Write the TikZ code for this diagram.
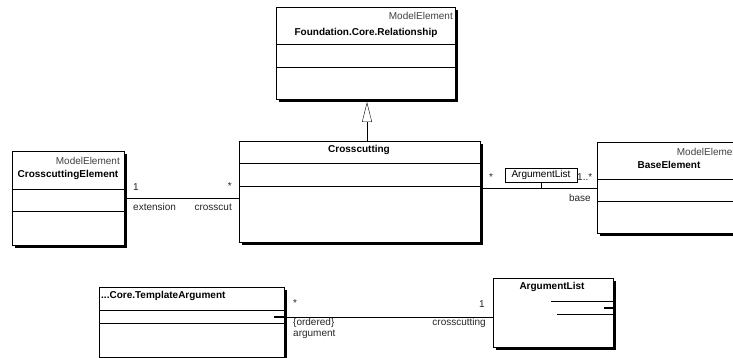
\documentclass[tikz,border=0pt]{standalone}
\usepackage{fontspec}
\setmainfont{Liberation Sans}
\usetikzlibrary{positioning, arrows.meta, shadows}

\begin{document}
\begin{tikzpicture}[x=1pt, y=-1pt, font=\fontsize{10}{11}\selectfont,
	classbox/.style={draw, line width=0.8pt, fill=white, anchor=north west, inner sep=0pt,
		drop shadow={shadow xshift=2.5pt, shadow yshift=-2.5pt, opacity=1, fill=black}},
	stereo/.style={anchor=east, inner sep=0pt, text=black!75},
	title/.style={inner sep=0pt, font=\fontsize{10}{11}\selectfont\bfseries},
	lbl/.style={inner sep=0pt, text=black!85},
	gen/.style={-{Triangle[open, length=20pt, width=10pt]}}]
	\useasboundingbox (0,0) rectangle (733,358);
	\clip (0,0) rectangle (733,358);
	% classes
	\node[classbox, minimum width=179pt, minimum height=92pt] (rel) at (276,7) {};
	\node[classbox, minimum width=112pt, minimum height=94pt] (ce) at (12,151) {};
	\node[classbox, minimum width=241pt, minimum height=101pt] (cc) at (239,141) {};
	\node[classbox, minimum width=146pt, minimum height=91pt] (be) at (597,142) {};
	\node[classbox, minimum width=185pt, minimum height=70pt] (ta) at (99,287) {};
	\node[classbox, minimum width=120pt, minimum height=69pt] (al) at (493,278) {};
	\foreach \n/\a/\b in {rel/44/67, ce/189/211, cc/163/186, be/179/201, ta/310/323}
		\draw[line width=0.8pt] (\n.west |- 0,\a) -- (\n.east |- 0,\a) (\n.west |- 0,\b) -- (\n.east |- 0,\b);
	\draw[line width=0.8pt] (551,301) -- (al.east |- 0,301) (557,314) -- (al.east |- 0,314);
	\draw[line width=1.6pt] (604,308) -- (al.east |- 0,308);
	% names
	\node[stereo] (relst) at (453,16) {ModelElement};
	\node[title] (reln) at (366,33) {Foundation.Core.Relationship};
	\node[stereo] (cest) at (120,161) {ModelElement};
	\node[title] (cen) at (68,175) {CrosscuttingElement};
	\node[title] (ccn) at (359,150) {Crosscutting};
	\node[stereo] (best) at (741,152) {ModelElement};
	\node[title] (ben) at (669,165) {BaseElement};
	\node[title, anchor=west] (tan) at (101,296) {...Core.TemplateArgument};
	\node[title] (aln) at (552,287) {ArgumentList};
	% generalization
	\coordinate (gtip) at (367,102);
	\draw[gen] (cc.north -| gtip) -- (gtip);
	% associations
	\draw (ce.east) -- (cc.west |- ce.east);
	\node[lbl, anchor=west] (ce1) at (133,187) {1};
	\node[lbl, anchor=east] (cc1) at (232,186) {*};
	\node[lbl, anchor=west] (ceext) at (133,207) {extension};
	\node[lbl, anchor=east] (cccross) at (232,207) {crosscut};
	\draw (cc.east |- be.west) -- (be.west);
	\node[draw, line width=0.6pt, inner sep=1pt, minimum width=72pt, minimum height=14pt] (alq) at (541,175) {ArgumentList};
	\draw (alq.south) -- (alq.south |- be.west);
	\node[lbl, anchor=west] (cc2) at (489,177) {*};
	\node[lbl, anchor=west] (be1) at (577,177) {1..*};
	\node[lbl, anchor=east] (bebase) at (591,198) {base};
	\coordinate (ta1) at (274,317);
	\draw (ta1) -- (al.west |- ta1);
	\draw[line width=1.8pt] (ta1) -- (ta.east |- ta1);
	\node[lbl, anchor=west] (ta2) at (293,303) {*};
	\node[lbl, anchor=west] (taord) at (293,323) {\{ordered\}};
	\node[lbl, anchor=west] (taarg) at (293,334) {argument};
	\node[lbl, anchor=east] (al1) at (485,304) {1};
	\node[lbl, anchor=east] (alcross) at (486,323) {crosscutting};
\end{tikzpicture}
\end{document}
